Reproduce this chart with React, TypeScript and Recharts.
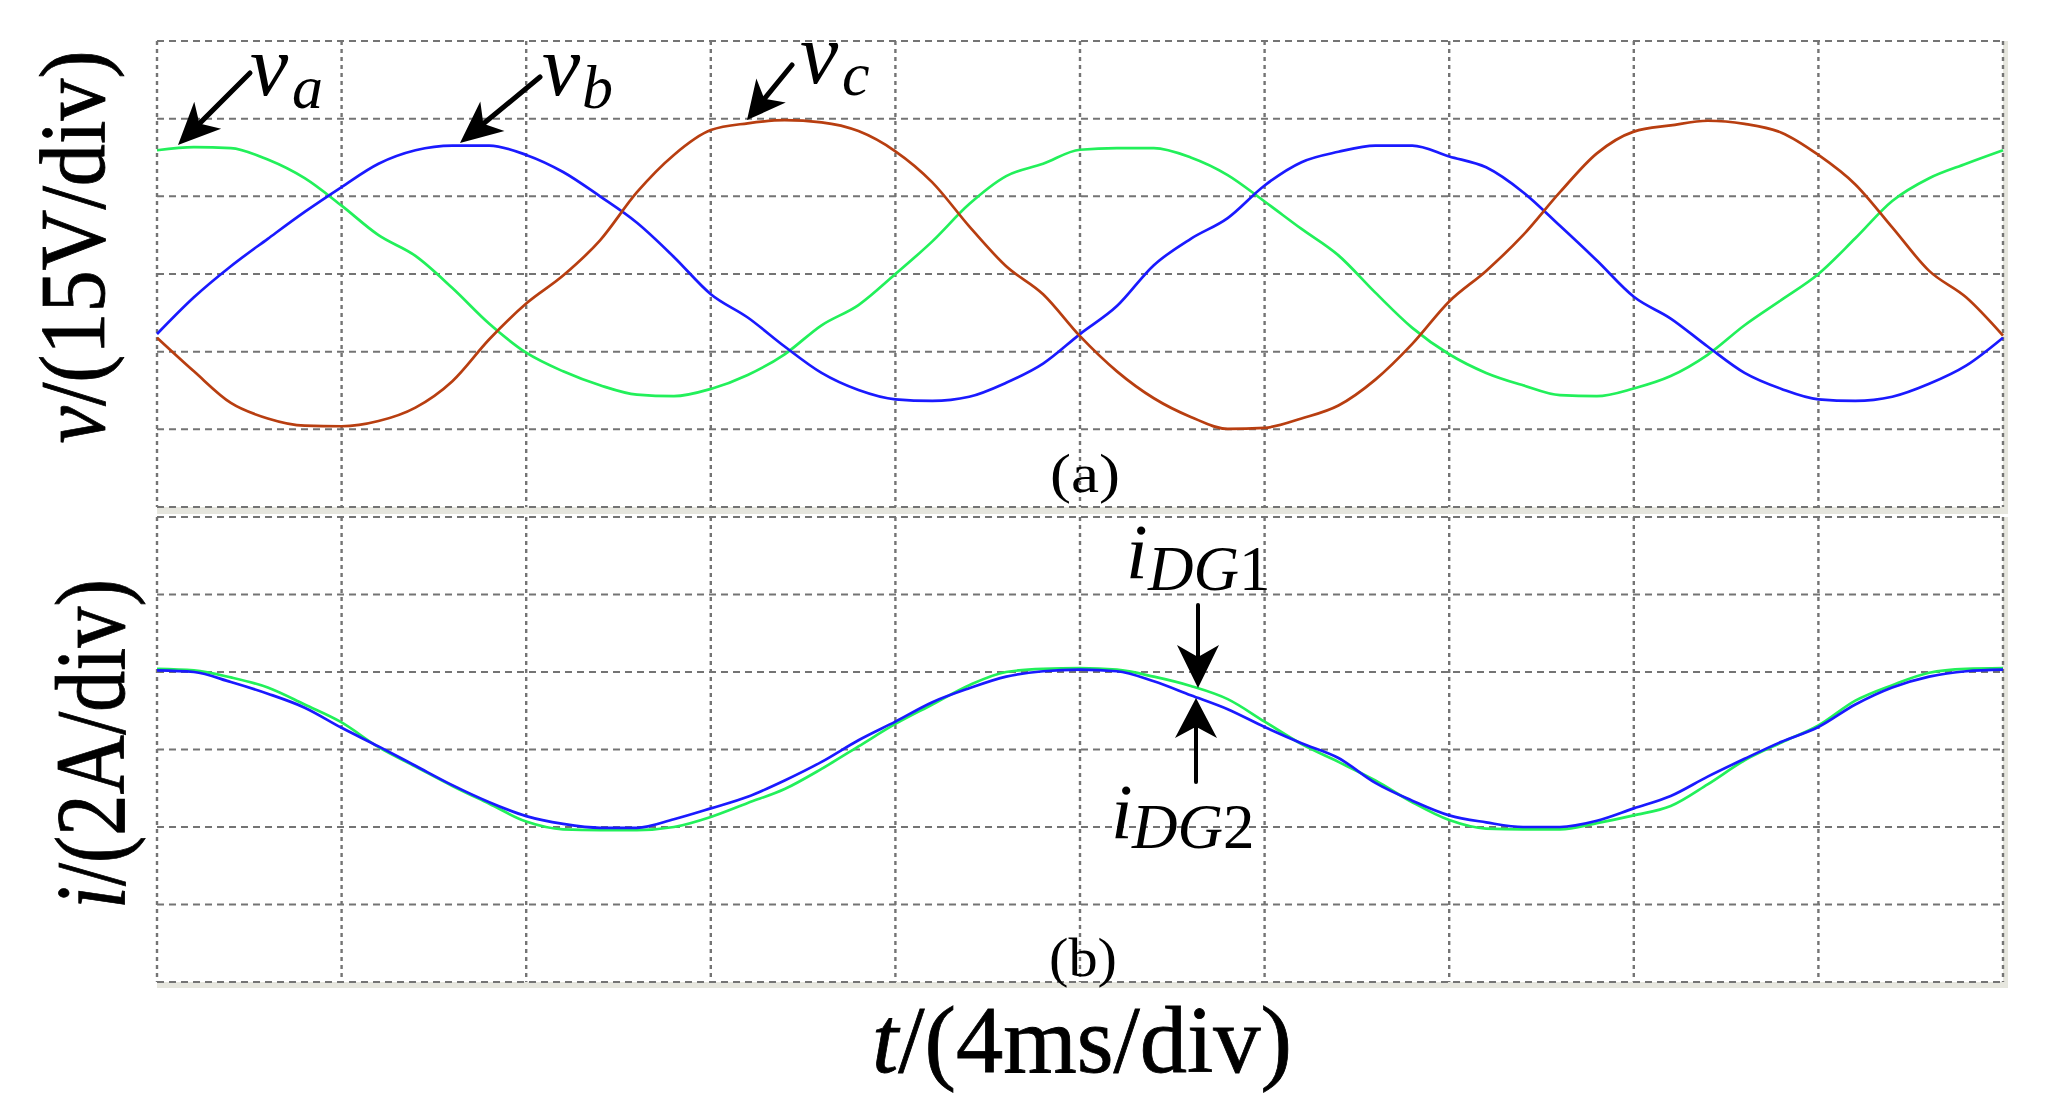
// Two-panel scope capture: phase voltages (a) and DG currents (b).
import React from "react";
import { LineChart, Line, XAxis, YAxis, CartesianGrid } from "recharts";

// time axis, ms (4 ms/div, 10 divs)
const timeMs = [
  0, 0.8, 1.6, 2.4, 3.2, 4, 4.8, 5.6, 6.4, 7.2, 8, 8.8, 9.6, 10.4, 11.2, 12, 12.8, 13.6, 14.4, 15.2,
  16, 16.8, 17.6, 18.4, 19.2, 20, 20.8, 21.6, 22.4, 23.2, 24, 24.8, 25.6, 26.4, 27.2, 28, 28.8, 29.6,
  30.4, 31.2, 32, 32.8, 33.6, 34.4, 35.2, 36, 36.8, 37.6, 38.4, 39.2, 40,
];
const xTicks = [0, 4, 8, 12, 16, 20, 24, 28, 32, 36, 40];

// panel (a) — phase voltages, V (15 V/div)
const va = [
  23.9, 24.5, 24.3, 22.1, 18.5, 13.2, 7.5, 3.5, -2.7, -9.6, -15.2, -18.8, -21.5, -23.3, -23.6, -22.2,
  -19.5, -15.5, -9.9, -6.0, 0, 6.3, 13.5, 18.9, 21.3, 24.0, 24.3, 24.3, 22.5, 19.1, 14.0, 8.7, 3.6,
  -3.6, -10.4, -15.5, -19.1, -21.5, -23.4, -23.6, -22.1, -19.7, -15.6, -9.9, -5.0, 0, 6.9, 14.1, 18.5,
  21.3, 23.9,
];
const vb = [
  -11.6, -4.5, 1.5, 6.8, 12.0, 16.8, 21.3, 23.9, 24.8, 24.8, 23.0, 19.7, 15.0, 9.9, 3.3, -3.9, -8.4,
  -14.0, -19.1, -22.4, -24.2, -24.5, -23.7, -21.0, -17.3, -11.6, -6.2, 1.7, 6.8, 10.8, 17.1, 21.6, 23.6,
  24.8, 24.8, 22.7, 20.6, 15.8, 9.3, 2.6, -4.4, -8.6, -14.0, -19.1, -22.2, -24.2, -24.5, -23.7, -21.2,
  -17.7, -12.3,
];
const vc = [
  -12.3, -18.8, -24.9, -27.9, -29.3, -29.4, -28.4, -25.8, -20.7, -12.6, -5.7, -0.3, 6.5, 15.8, 23.0,
  27.8, 29.1, 29.7, 29.3, 27.6, 23.7, 17.7, 9.2, 1.5, -3.9, -12.0, -18.8, -24.0, -27.6, -29.9, -29.7,
  -27.9, -25.4, -20.4, -13.5, -5.3, 0.6, 7.5, 15.8, 23.3, 27.5, 28.7, 29.6, 29.0, 27.3, 23.0, 17.3, 9.0,
  0.6, -4.5, -11.9,
];
const vTicks = [-45, -30, -15, 0, 15, 30, 45];

// panel (b) — DG output currents, A (2 A/div)
const iDG1 = [
  2.08, 2.04, 1.86, 1.6, 1.16, 0.7, 0.06, -0.44, -0.94, -1.4, -1.86, -2.06, -2.08, -2.08, -2.0, -1.74,
  -1.38, -1.02, -0.5, 0.08, 0.66, 1.16, 1.66, 2.0, 2.08, 2.1, 2.06, 1.88, 1.64, 1.3, 0.72, 0.14, -0.32,
  -0.8, -1.36, -1.82, -2.04, -2.06, -2.06, -1.9, -1.7, -1.46, -0.9, -0.28, 0.18, 0.62, 1.26, 1.66, 1.98,
  2.08, 2.1,
];
const iDG2 = [
  2.04, 2.0, 1.74, 1.44, 1.08, 0.56, 0.08, -0.42, -0.92, -1.36, -1.72, -1.92, -2.02, -2.02, -1.8, -1.52,
  -1.22, -0.8, -0.32, 0.24, 0.72, 1.22, 1.58, 1.88, 2.02, 2.06, 2.02, 1.76, 1.4, 1.04, 0.58, 0.16, -0.22,
  -0.86, -1.32, -1.7, -1.88, -2.0, -2.0, -1.84, -1.52, -1.2, -0.7, -0.24, 0.2, 0.58, 1.16, 1.6, 1.88,
  2.02, 2.06,
];
const iTicks = [-6, -4, -2, 0, 2, 4, 6];

const C = { green: "#22f05a", blue: "#1a1aff", brown: "#b83e10", grid: "#747474", band: "#e6e6de" };
const SERIF = "'Liberation Serif', 'Times New Roman', Times, serif";

const dataA = timeMs.map((t, i) => ({ t, va: va[i], vb: vb[i], vc: vc[i] }));
const dataB = timeMs.map((t, i) => ({ t, i1: iDG1[i], i2: iDG2[i] }));

const W = 2046;
const side = { left: 157, right: 43 };
const lineProps = { type: "monotone" as const, strokeWidth: 2.7, dot: false, isAnimationActive: false };

function Grids() {
  return [
    <CartesianGrid key="h" vertical={false} stroke={C.grid} strokeWidth={2} strokeDasharray="7 5" />,
    <CartesianGrid key="v" horizontal={false} stroke={C.grid} strokeWidth={2.4} strokeDasharray="4 4" />,
  ];
}

function Arrow({ x1, y1, x2, y2, len = 42, half = 19, w = 5 }: any) {
  const d = Math.hypot(x2 - x1, y2 - y1);
  const ux = (x2 - x1) / d, uy = (y2 - y1) / d;
  const px = -uy, py = ux;
  const bx = x2 - ux * len, by = y2 - uy * len;
  const nx = x2 - ux * len * 0.72, ny = y2 - uy * len * 0.72;
  const pts = [
    [x2, y2], [bx + px * half, by + py * half], [nx, ny], [bx - px * half, by - py * half],
  ].map((p) => p.join(",")).join(" ");
  return (
    <g>
      <line x1={x1} y1={y1} x2={nx} y2={ny} stroke="#000" strokeWidth={w} strokeLinecap="round" />
      <polygon points={pts} fill="#000" />
    </g>
  );
}

export default function App() {
  const big = { stroke: "#000", strokeWidth: 0.8 };
  return (
    <div style={{ position: "absolute", left: 0, top: 0, width: W, height: 1119, background: "#fff", fontFamily: SERIF }}>
      {/* light frame shadow under each panel */}
      <svg width={W} height={1119} style={{ position: "absolute", left: 0, top: 0 }}>
        <rect x={157} y={507} width={1851} height={7} fill={C.band} />
        <rect x={2003} y={41} width={5} height={473} fill={C.band} />
        <rect x={157} y={982} width={1851} height={6} fill={C.band} />
        <rect x={2003} y={517} width={5} height={471} fill={C.band} />
      </svg>

      <div style={{ position: "absolute", left: 0, top: 0 }}>
        <LineChart width={W} height={520} data={dataA} margin={{ top: 41, bottom: 13, ...side }}>
          {Grids()}
          <XAxis dataKey="t" type="number" domain={[0, 40]} ticks={xTicks} hide />
          <YAxis type="number" domain={[-45, 45]} ticks={vTicks} hide />
          <Line dataKey="va" stroke={C.green} {...lineProps} />
          <Line dataKey="vb" stroke={C.blue} {...lineProps} />
          <Line dataKey="vc" stroke={C.brown} {...lineProps} />
        </LineChart>
      </div>

      <div style={{ position: "absolute", left: 0, top: 505 }}>
        <LineChart width={W} height={490} data={dataB} margin={{ top: 12, bottom: 13, ...side }}>
          {Grids()}
          <XAxis dataKey="t" type="number" domain={[0, 40]} ticks={xTicks} hide />
          <YAxis type="number" domain={[-6, 6]} ticks={iTicks} hide />
          <Line dataKey="i1" stroke={C.green} {...lineProps} />
          <Line dataKey="i2" stroke={C.blue} {...lineProps} />
        </LineChart>
      </div>

      {/* annotations */}
      <svg width={W} height={1119} style={{ position: "absolute", left: 0, top: 0, pointerEvents: "none" }} fontFamily={SERIF}>
        <Arrow x1={250} y1={73} x2={178} y2={145} />
        <Arrow x1={540} y1={77} x2={460} y2={143} />
        <Arrow x1={792} y1={65} x2={747} y2={120} len={38} />
        <Arrow x1={1198} y1={605} x2={1198} y2={688} len={43} half={21} w={4} />
        <Arrow x1={1196} y1={782} x2={1196} y2={698} len={40} half={21} w={4} />

        <text x={250} y={95} fontSize={86} fontStyle="italic">v</text>
        <text x={292} y={108} fontSize={62} fontStyle="italic">a</text>
        <text x={542} y={95} fontSize={86} fontStyle="italic">v</text>
        <text x={582} y={108} fontSize={62} fontStyle="italic">b</text>
        <text x={800} y={83} fontSize={86} fontStyle="italic">v</text>
        <text x={842} y={95} fontSize={62} fontStyle="italic">c</text>

        <text x={1126} y={578} fontSize={78} fontStyle="italic">i</text>
        <text x={1148} y={590} fontSize={63}><tspan fontStyle="italic">DG</tspan>1</text>
        <text x={1111} y={838} fontSize={78} fontStyle="italic">i</text>
        <text x={1132} y={848} fontSize={63}><tspan fontStyle="italic">DG</tspan>2</text>

        <text x={1085} y={492} fontSize={54} textAnchor="middle" textLength={70} lengthAdjust="spacingAndGlyphs">(a)</text>
        <text x={1083} y={976} fontSize={54} textAnchor="middle" textLength={68} lengthAdjust="spacingAndGlyphs">(b)</text>

        <text transform="translate(104,247) rotate(-90)" fontSize={93} textAnchor="middle" textLength={393} lengthAdjust="spacingAndGlyphs" {...big}>
          <tspan fontStyle="italic">v</tspan>/(15V/div)
        </text>
        <text transform="translate(124,744) rotate(-90)" fontSize={100} textAnchor="middle" textLength={330} lengthAdjust="spacingAndGlyphs" {...big}>
          <tspan fontStyle="italic">i</tspan>/(2A/div)
        </text>
        <text x={1082} y={1072} fontSize={95} textAnchor="middle" textLength={420} lengthAdjust="spacingAndGlyphs" {...big}>
          <tspan fontStyle="italic">t</tspan>/(4ms/div)
        </text>
      </svg>
    </div>
  );
}
